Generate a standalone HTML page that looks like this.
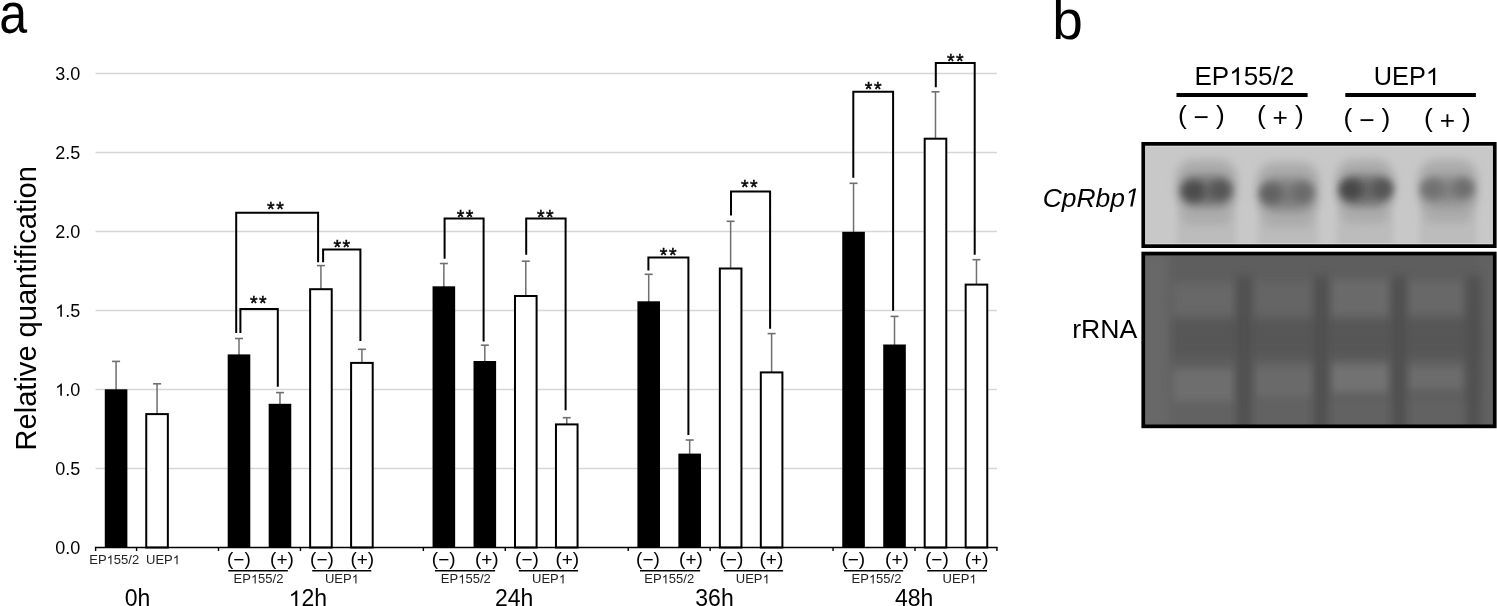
<!DOCTYPE html>
<html><head><meta charset="utf-8"><style>
html,body{margin:0;padding:0;background:#fff;}
body{width:1497px;height:606px;overflow:hidden;}
svg{display:block;font-family:"Liberation Sans",sans-serif;filter:grayscale(1);}
</style></head><body>
<svg width="1497" height="606" viewBox="0 0 1497 606">
<defs>
<filter id="bl3" x="-50%" y="-50%" width="200%" height="200%"><feGaussianBlur stdDeviation="3"/></filter>
<filter id="bl4" x="-50%" y="-50%" width="200%" height="200%"><feGaussianBlur stdDeviation="4"/></filter>
<filter id="bl5" x="-50%" y="-50%" width="200%" height="200%"><feGaussianBlur stdDeviation="5"/></filter>
<filter id="bl6" x="-50%" y="-50%" width="200%" height="200%"><feGaussianBlur stdDeviation="6"/></filter>
<clipPath id="c1"><rect x="1143" y="143" width="353" height="104"/></clipPath>
<clipPath id="c2"><rect x="1143" y="253" width="353" height="174"/></clipPath>
</defs>
<rect width="1497" height="606" fill="#fff"/>
<line x1="95.5" y1="468.50" x2="997" y2="468.50" stroke="#d6d6d6" stroke-width="1.3"/>
<line x1="95.5" y1="389.50" x2="997" y2="389.50" stroke="#d6d6d6" stroke-width="1.3"/>
<line x1="95.5" y1="310.50" x2="997" y2="310.50" stroke="#d6d6d6" stroke-width="1.3"/>
<line x1="95.5" y1="231.50" x2="997" y2="231.50" stroke="#d6d6d6" stroke-width="1.3"/>
<line x1="95.5" y1="152.50" x2="997" y2="152.50" stroke="#d6d6d6" stroke-width="1.3"/>
<line x1="95.5" y1="73.50" x2="997" y2="73.50" stroke="#d6d6d6" stroke-width="1.3"/>
<text x="55.18" y="553.80" font-size="18" >0.0</text>
<text x="55.18" y="474.80" font-size="18" >0.5</text>
<text x="55.18" y="395.80" font-size="18" > .0</text><path d="M763 0L583 0L583 1098Q518 1039 412 979Q306 920 222 890L222 1057Q373 1124 486 1221Q599 1318 646 1409L763 1409Z" fill="#000" transform="matrix(0.00879 0 0 -0.00879 55.18 395.80)"/>
<text x="55.18" y="316.80" font-size="18" > .5</text><path d="M763 0L583 0L583 1098Q518 1039 412 979Q306 920 222 890L222 1057Q373 1124 486 1221Q599 1318 646 1409L763 1409Z" fill="#000" transform="matrix(0.00879 0 0 -0.00879 55.18 316.80)"/>
<text x="55.18" y="237.80" font-size="18" >2.0</text>
<text x="55.18" y="158.80" font-size="18" >2.5</text>
<text x="55.18" y="79.80" font-size="18" >3.0</text>
<line x1="116.08" y1="390.30" x2="116.08" y2="361.40" stroke="#6f6f6f" stroke-width="1.5"/>
<line x1="112.08" y1="361.40" x2="120.08" y2="361.40" stroke="#6f6f6f" stroke-width="1.6"/>
<rect x="104.78" y="389.30" width="22.60" height="158.20" fill="#000"/>
<line x1="157.06" y1="414.10" x2="157.06" y2="383.80" stroke="#6f6f6f" stroke-width="1.5"/>
<line x1="153.06" y1="383.80" x2="161.06" y2="383.80" stroke="#6f6f6f" stroke-width="1.6"/>
<rect x="146.25" y="414.10" width="21.60" height="133.40" fill="#fff" stroke="#000" stroke-width="2.0"/>
<line x1="238.99" y1="355.40" x2="238.99" y2="338.50" stroke="#6f6f6f" stroke-width="1.5"/>
<line x1="234.99" y1="338.50" x2="242.99" y2="338.50" stroke="#6f6f6f" stroke-width="1.6"/>
<rect x="227.69" y="354.40" width="22.60" height="193.10" fill="#000"/>
<line x1="279.97" y1="404.80" x2="279.97" y2="392.60" stroke="#6f6f6f" stroke-width="1.5"/>
<line x1="275.97" y1="392.60" x2="283.97" y2="392.60" stroke="#6f6f6f" stroke-width="1.6"/>
<rect x="268.67" y="403.80" width="22.60" height="143.70" fill="#000"/>
<line x1="320.93" y1="289.20" x2="320.93" y2="265.60" stroke="#6f6f6f" stroke-width="1.5"/>
<line x1="316.93" y1="265.60" x2="324.93" y2="265.60" stroke="#6f6f6f" stroke-width="1.6"/>
<rect x="310.13" y="289.20" width="21.60" height="258.30" fill="#fff" stroke="#000" stroke-width="2.0"/>
<line x1="361.90" y1="362.90" x2="361.90" y2="349.30" stroke="#6f6f6f" stroke-width="1.5"/>
<line x1="357.90" y1="349.30" x2="365.90" y2="349.30" stroke="#6f6f6f" stroke-width="1.6"/>
<rect x="351.10" y="362.90" width="21.60" height="184.60" fill="#fff" stroke="#000" stroke-width="2.0"/>
<line x1="443.85" y1="287.30" x2="443.85" y2="263.50" stroke="#6f6f6f" stroke-width="1.5"/>
<line x1="439.85" y1="263.50" x2="447.85" y2="263.50" stroke="#6f6f6f" stroke-width="1.6"/>
<rect x="432.55" y="286.30" width="22.60" height="261.20" fill="#000"/>
<line x1="484.81" y1="362.00" x2="484.81" y2="345.20" stroke="#6f6f6f" stroke-width="1.5"/>
<line x1="480.81" y1="345.20" x2="488.81" y2="345.20" stroke="#6f6f6f" stroke-width="1.6"/>
<rect x="473.51" y="361.00" width="22.60" height="186.50" fill="#000"/>
<line x1="525.78" y1="296.00" x2="525.78" y2="261.20" stroke="#6f6f6f" stroke-width="1.5"/>
<line x1="521.78" y1="261.20" x2="529.78" y2="261.20" stroke="#6f6f6f" stroke-width="1.6"/>
<rect x="514.99" y="296.00" width="21.60" height="251.50" fill="#fff" stroke="#000" stroke-width="2.0"/>
<line x1="566.75" y1="424.40" x2="566.75" y2="417.70" stroke="#6f6f6f" stroke-width="1.5"/>
<line x1="562.75" y1="417.70" x2="570.75" y2="417.70" stroke="#6f6f6f" stroke-width="1.6"/>
<rect x="555.96" y="424.40" width="21.60" height="123.10" fill="#fff" stroke="#000" stroke-width="2.0"/>
<line x1="648.70" y1="302.30" x2="648.70" y2="274.30" stroke="#6f6f6f" stroke-width="1.5"/>
<line x1="644.70" y1="274.30" x2="652.70" y2="274.30" stroke="#6f6f6f" stroke-width="1.6"/>
<rect x="637.40" y="301.30" width="22.60" height="246.20" fill="#000"/>
<line x1="689.66" y1="454.60" x2="689.66" y2="440.00" stroke="#6f6f6f" stroke-width="1.5"/>
<line x1="685.66" y1="440.00" x2="693.66" y2="440.00" stroke="#6f6f6f" stroke-width="1.6"/>
<rect x="678.37" y="453.60" width="22.60" height="93.90" fill="#000"/>
<line x1="730.63" y1="268.50" x2="730.63" y2="221.30" stroke="#6f6f6f" stroke-width="1.5"/>
<line x1="726.63" y1="221.30" x2="734.63" y2="221.30" stroke="#6f6f6f" stroke-width="1.6"/>
<rect x="719.84" y="268.50" width="21.60" height="279.00" fill="#fff" stroke="#000" stroke-width="2.0"/>
<line x1="771.61" y1="372.40" x2="771.61" y2="333.60" stroke="#6f6f6f" stroke-width="1.5"/>
<line x1="767.61" y1="333.60" x2="775.61" y2="333.60" stroke="#6f6f6f" stroke-width="1.6"/>
<rect x="760.81" y="372.40" width="21.60" height="175.10" fill="#fff" stroke="#000" stroke-width="2.0"/>
<line x1="853.54" y1="232.80" x2="853.54" y2="183.30" stroke="#6f6f6f" stroke-width="1.5"/>
<line x1="849.54" y1="183.30" x2="857.54" y2="183.30" stroke="#6f6f6f" stroke-width="1.6"/>
<rect x="842.25" y="231.80" width="22.60" height="315.70" fill="#000"/>
<line x1="894.51" y1="345.50" x2="894.51" y2="316.40" stroke="#6f6f6f" stroke-width="1.5"/>
<line x1="890.51" y1="316.40" x2="898.51" y2="316.40" stroke="#6f6f6f" stroke-width="1.6"/>
<rect x="883.22" y="344.50" width="22.60" height="203.00" fill="#000"/>
<line x1="935.49" y1="138.70" x2="935.49" y2="91.80" stroke="#6f6f6f" stroke-width="1.5"/>
<line x1="931.49" y1="91.80" x2="939.49" y2="91.80" stroke="#6f6f6f" stroke-width="1.6"/>
<rect x="924.69" y="138.70" width="21.60" height="408.80" fill="#fff" stroke="#000" stroke-width="2.0"/>
<line x1="976.46" y1="284.60" x2="976.46" y2="259.70" stroke="#6f6f6f" stroke-width="1.5"/>
<line x1="972.46" y1="259.70" x2="980.46" y2="259.70" stroke="#6f6f6f" stroke-width="1.6"/>
<rect x="965.66" y="284.60" width="21.60" height="262.90" fill="#fff" stroke="#000" stroke-width="2.0"/>
<line x1="94.9" y1="547.5" x2="997.6" y2="547.5" stroke="#000" stroke-width="1.7"/>
<line x1="95.60" y1="547.5" x2="95.60" y2="551" stroke="#000" stroke-width="1.4"/>
<line x1="136.57" y1="547.5" x2="136.57" y2="551" stroke="#000" stroke-width="1.4"/>
<line x1="218.51" y1="547.5" x2="218.51" y2="551" stroke="#000" stroke-width="1.4"/>
<line x1="300.45" y1="547.5" x2="300.45" y2="551" stroke="#000" stroke-width="1.4"/>
<line x1="423.36" y1="547.5" x2="423.36" y2="551" stroke="#000" stroke-width="1.4"/>
<line x1="505.30" y1="547.5" x2="505.30" y2="551" stroke="#000" stroke-width="1.4"/>
<line x1="628.21" y1="547.5" x2="628.21" y2="551" stroke="#000" stroke-width="1.4"/>
<line x1="710.15" y1="547.5" x2="710.15" y2="551" stroke="#000" stroke-width="1.4"/>
<line x1="833.06" y1="547.5" x2="833.06" y2="551" stroke="#000" stroke-width="1.4"/>
<line x1="915.00" y1="547.5" x2="915.00" y2="551" stroke="#000" stroke-width="1.4"/>
<line x1="996.94" y1="547.5" x2="996.94" y2="551" stroke="#000" stroke-width="1.4"/>
<path d="M236.20 333.00V212.70H318.10V262.20" fill="none" stroke="#000" stroke-width="2" stroke-linejoin="miter"/>
<text x="267.09" y="216.47" font-size="19.5" stroke="#000" stroke-width="0.45">*</text>
<text x="276.19" y="216.47" font-size="19.5" stroke="#000" stroke-width="0.45">*</text>
<path d="M240.40 332.90V309.00H277.80V386.80" fill="none" stroke="#000" stroke-width="2" stroke-linejoin="miter"/>
<text x="249.99" y="310.27" font-size="19.5" stroke="#000" stroke-width="0.45">*</text>
<text x="259.09" y="310.27" font-size="19.5" stroke="#000" stroke-width="0.45">*</text>
<path d="M323.10 262.20V249.40H360.40V340.90" fill="none" stroke="#000" stroke-width="2" stroke-linejoin="miter"/>
<text x="333.49" y="254.47" font-size="19.5" stroke="#000" stroke-width="0.45">*</text>
<text x="342.59" y="254.47" font-size="19.5" stroke="#000" stroke-width="0.45">*</text>
<path d="M444.60 258.80V218.40H483.60V341.40" fill="none" stroke="#000" stroke-width="2" stroke-linejoin="miter"/>
<text x="456.69" y="223.97" font-size="19.5" stroke="#000" stroke-width="0.45">*</text>
<text x="465.79" y="223.97" font-size="19.5" stroke="#000" stroke-width="0.45">*</text>
<path d="M526.20 254.80V218.40H565.60V410.20" fill="none" stroke="#000" stroke-width="2" stroke-linejoin="miter"/>
<text x="536.89" y="223.97" font-size="19.5" stroke="#000" stroke-width="0.45">*</text>
<text x="545.99" y="223.97" font-size="19.5" stroke="#000" stroke-width="0.45">*</text>
<path d="M648.40 270.40V257.50H688.40V435.00" fill="none" stroke="#000" stroke-width="2" stroke-linejoin="miter"/>
<text x="659.79" y="262.07" font-size="19.5" stroke="#000" stroke-width="0.45">*</text>
<text x="668.89" y="262.07" font-size="19.5" stroke="#000" stroke-width="0.45">*</text>
<path d="M731.00 215.40V191.40H770.10V328.70" fill="none" stroke="#000" stroke-width="2" stroke-linejoin="miter"/>
<text x="740.89" y="193.87" font-size="19.5" stroke="#000" stroke-width="0.45">*</text>
<text x="749.99" y="193.87" font-size="19.5" stroke="#000" stroke-width="0.45">*</text>
<path d="M853.30 177.80V91.70H893.10V310.80" fill="none" stroke="#000" stroke-width="2" stroke-linejoin="miter"/>
<text x="864.79" y="96.47" font-size="19.5" stroke="#000" stroke-width="0.45">*</text>
<text x="873.89" y="96.47" font-size="19.5" stroke="#000" stroke-width="0.45">*</text>
<path d="M935.80 87.30V62.90H974.70V254.70" fill="none" stroke="#000" stroke-width="2" stroke-linejoin="miter"/>
<text x="946.89" y="68.07" font-size="19.5" stroke="#000" stroke-width="0.45">*</text>
<text x="955.99" y="68.07" font-size="19.5" stroke="#000" stroke-width="0.45">*</text>
<text x="238.90" y="565.0" text-anchor="middle" font-size="19">(<tspan dy="1.0">−</tspan><tspan dy="-1.0">)</tspan></text>
<text x="282.00" y="565.0" text-anchor="middle" font-size="19">(<tspan dy="1.0">+</tspan><tspan dy="-1.0">)</tspan></text>
<text x="322.00" y="565.0" text-anchor="middle" font-size="19">(<tspan dy="1.0">−</tspan><tspan dy="-1.0">)</tspan></text>
<text x="362.30" y="565.0" text-anchor="middle" font-size="19">(<tspan dy="1.0">+</tspan><tspan dy="-1.0">)</tspan></text>
<text x="443.70" y="565.0" text-anchor="middle" font-size="19">(<tspan dy="1.0">−</tspan><tspan dy="-1.0">)</tspan></text>
<text x="486.80" y="565.0" text-anchor="middle" font-size="19">(<tspan dy="1.0">+</tspan><tspan dy="-1.0">)</tspan></text>
<text x="527.00" y="565.0" text-anchor="middle" font-size="19">(<tspan dy="1.0">−</tspan><tspan dy="-1.0">)</tspan></text>
<text x="567.30" y="565.0" text-anchor="middle" font-size="19">(<tspan dy="1.0">+</tspan><tspan dy="-1.0">)</tspan></text>
<text x="648.00" y="565.0" text-anchor="middle" font-size="19">(<tspan dy="1.0">−</tspan><tspan dy="-1.0">)</tspan></text>
<text x="691.00" y="565.0" text-anchor="middle" font-size="19">(<tspan dy="1.0">+</tspan><tspan dy="-1.0">)</tspan></text>
<text x="731.40" y="565.0" text-anchor="middle" font-size="19">(<tspan dy="1.0">−</tspan><tspan dy="-1.0">)</tspan></text>
<text x="771.40" y="565.0" text-anchor="middle" font-size="19">(<tspan dy="1.0">+</tspan><tspan dy="-1.0">)</tspan></text>
<text x="853.30" y="565.0" text-anchor="middle" font-size="19">(<tspan dy="1.0">−</tspan><tspan dy="-1.0">)</tspan></text>
<text x="897.00" y="565.0" text-anchor="middle" font-size="19">(<tspan dy="1.0">+</tspan><tspan dy="-1.0">)</tspan></text>
<text x="936.90" y="565.0" text-anchor="middle" font-size="19">(<tspan dy="1.0">−</tspan><tspan dy="-1.0">)</tspan></text>
<text x="976.60" y="565.0" text-anchor="middle" font-size="19">(<tspan dy="1.0">+</tspan><tspan dy="-1.0">)</tspan></text>
<line x1="228.30" y1="570.8" x2="287.90" y2="570.8" stroke="#000" stroke-width="1.4"/>
<line x1="312.20" y1="570.8" x2="371.30" y2="570.8" stroke="#000" stroke-width="1.4"/>
<line x1="435.00" y1="570.8" x2="495.10" y2="570.8" stroke="#000" stroke-width="1.4"/>
<line x1="518.80" y1="570.8" x2="578.10" y2="570.8" stroke="#000" stroke-width="1.4"/>
<line x1="640.00" y1="570.8" x2="700.10" y2="570.8" stroke="#000" stroke-width="1.4"/>
<line x1="723.80" y1="570.8" x2="783.10" y2="570.8" stroke="#000" stroke-width="1.4"/>
<line x1="844.00" y1="570.8" x2="903.20" y2="570.8" stroke="#000" stroke-width="1.4"/>
<line x1="927.30" y1="570.8" x2="987.00" y2="570.8" stroke="#000" stroke-width="1.4"/>
<text x="233.56" y="583.40" font-size="13" fill="#222">EP 55/2</text><path d="M763 0L583 0L583 1098Q518 1039 412 979Q306 920 222 890L222 1057Q373 1124 486 1221Q599 1318 646 1409L763 1409Z" fill="#222" transform="matrix(0.00635 0 0 -0.00635 250.91 583.40)"/>
<text x="324.92" y="583.40" font-size="13" fill="#222">UEP </text><path d="M763 0L583 0L583 1098Q518 1039 412 979Q306 920 222 890L222 1057Q373 1124 486 1221Q599 1318 646 1409L763 1409Z" fill="#222" transform="matrix(0.00635 0 0 -0.00635 351.65 583.40)"/>
<text x="440.86" y="583.40" font-size="13" fill="#222">EP 55/2</text><path d="M763 0L583 0L583 1098Q518 1039 412 979Q306 920 222 890L222 1057Q373 1124 486 1221Q599 1318 646 1409L763 1409Z" fill="#222" transform="matrix(0.00635 0 0 -0.00635 458.21 583.40)"/>
<text x="532.02" y="583.40" font-size="13" fill="#222">UEP </text><path d="M763 0L583 0L583 1098Q518 1039 412 979Q306 920 222 890L222 1057Q373 1124 486 1221Q599 1318 646 1409L763 1409Z" fill="#222" transform="matrix(0.00635 0 0 -0.00635 558.75 583.40)"/>
<text x="644.26" y="583.40" font-size="13" fill="#222">EP 55/2</text><path d="M763 0L583 0L583 1098Q518 1039 412 979Q306 920 222 890L222 1057Q373 1124 486 1221Q599 1318 646 1409L763 1409Z" fill="#222" transform="matrix(0.00635 0 0 -0.00635 661.61 583.40)"/>
<text x="735.82" y="583.40" font-size="13" fill="#222">UEP </text><path d="M763 0L583 0L583 1098Q518 1039 412 979Q306 920 222 890L222 1057Q373 1124 486 1221Q599 1318 646 1409L763 1409Z" fill="#222" transform="matrix(0.00635 0 0 -0.00635 762.55 583.40)"/>
<text x="851.56" y="583.40" font-size="13" fill="#222">EP 55/2</text><path d="M763 0L583 0L583 1098Q518 1039 412 979Q306 920 222 890L222 1057Q373 1124 486 1221Q599 1318 646 1409L763 1409Z" fill="#222" transform="matrix(0.00635 0 0 -0.00635 868.91 583.40)"/>
<text x="942.62" y="583.40" font-size="13" fill="#222">UEP </text><path d="M763 0L583 0L583 1098Q518 1039 412 979Q306 920 222 890L222 1057Q373 1124 486 1221Q599 1318 646 1409L763 1409Z" fill="#222" transform="matrix(0.00635 0 0 -0.00635 969.35 583.40)"/>
<text x="89.26" y="564.30" font-size="13" fill="#222">EP 55/2</text><path d="M763 0L583 0L583 1098Q518 1039 412 979Q306 920 222 890L222 1057Q373 1124 486 1221Q599 1318 646 1409L763 1409Z" fill="#222" transform="matrix(0.00635 0 0 -0.00635 106.61 564.30)"/>
<text x="146.02" y="564.30" font-size="13" fill="#222">UEP </text><path d="M763 0L583 0L583 1098Q518 1039 412 979Q306 920 222 890L222 1057Q373 1124 486 1221Q599 1318 646 1409L763 1409Z" fill="#222" transform="matrix(0.00635 0 0 -0.00635 172.75 564.30)"/>
<text x="124.81" y="606.20" font-size="23" >0h</text>
<text x="288.71" y="606.20" font-size="23" > 2h</text><path d="M763 0L583 0L583 1098Q518 1039 412 979Q306 920 222 890L222 1057Q373 1124 486 1221Q599 1318 646 1409L763 1409Z" fill="#000" transform="matrix(0.01123 0 0 -0.01123 288.71 606.20)"/>
<text x="495.01" y="606.20" font-size="23" >24h</text>
<text x="695.31" y="606.20" font-size="23" >36h</text>
<text x="895.01" y="606.20" font-size="23" >48h</text>
<text transform="translate(35.7 308.3) rotate(-90)" text-anchor="middle" font-size="29.05">Relative quantification</text>
<text transform="translate(-0.8 32.6) scale(0.88 1)" font-size="57">a</text>
<text x="1052.3" y="39.2" font-size="55">b</text>
<text x="1194.53" y="85.10" font-size="26" >EP 55/2</text><path d="M763 0L583 0L583 1098Q518 1039 412 979Q306 920 222 890L222 1057Q373 1124 486 1221Q599 1318 646 1409L763 1409Z" fill="#000" transform="matrix(0.01270 0 0 -0.01270 1229.21 85.10)"/>
<text x="1373.75" y="85.10" font-size="25.3" >UEP </text><path d="M763 0L583 0L583 1098Q518 1039 412 979Q306 920 222 890L222 1057Q373 1124 486 1221Q599 1318 646 1409L763 1409Z" fill="#000" transform="matrix(0.01235 0 0 -0.01235 1425.77 85.10)"/>
<line x1="1176.5" y1="94.9" x2="1307.6" y2="94.9" stroke="#000" stroke-width="4"/>
<line x1="1345.3" y1="94.9" x2="1475.9" y2="94.9" stroke="#000" stroke-width="4"/>
<text x="1182.30" y="123.8" text-anchor="middle" font-size="26.3">(</text>
<text x="1201.30" y="125.7" text-anchor="middle" font-size="26.3">−</text>
<text x="1220.30" y="123.8" text-anchor="middle" font-size="26.3">)</text>
<text x="1261.30" y="123.8" text-anchor="middle" font-size="26.3">(</text>
<text x="1280.30" y="125.7" text-anchor="middle" font-size="26.3">+</text>
<text x="1299.30" y="123.8" text-anchor="middle" font-size="26.3">)</text>
<text x="1348.00" y="126.9" text-anchor="middle" font-size="26.3">(</text>
<text x="1367.00" y="128.9" text-anchor="middle" font-size="26.3">−</text>
<text x="1386.00" y="126.9" text-anchor="middle" font-size="26.3">)</text>
<text x="1428.50" y="126.9" text-anchor="middle" font-size="26.3">(</text>
<text x="1447.50" y="128.9" text-anchor="middle" font-size="26.3">+</text>
<text x="1466.50" y="126.9" text-anchor="middle" font-size="26.3">)</text>
<text x="1042.74" y="206.60" font-size="26.4" font-style="italic" >CpRbp </text><path d="M412 0L650 1223L289 1000L324 1180L701 1409L867 1409L593 0Z" fill="#000" transform="matrix(0.01289 0 0 -0.01289 1124.92 206.60)"/>
<text x="1137.2" y="337.7" text-anchor="end" font-size="26.6">rRNA</text>
<g clip-path="url(#c1)">
<rect x="1143" y="143" width="352" height="103" fill="#c8c8c8"/>
<rect x="1177.0" y="199.0" width="59.0" height="70" fill="#bcbcbc" filter="url(#bl3)"/>
<rect x="1182.0" y="197.0" width="49.0" height="28" rx="8" fill="#acacac" filter="url(#bl4)"/>
<rect x="1176.0" y="159.5" width="61.0" height="50.5" rx="18" fill="#ababab" filter="url(#bl5)"/>
<rect x="1181.0" y="174.5" width="51.0" height="32.5" rx="14" fill="#838383" filter="url(#bl4)"/>
<ellipse cx="1206.8" cy="192.0" rx="19.8" ry="9.5" fill="#555555" opacity="0.55" filter="url(#bl4)"/>
<ellipse cx="1193.0" cy="191.0" rx="11.5" ry="10.5" fill="#4c4c4c" filter="url(#bl4)"/>
<ellipse cx="1220.5" cy="190.0" rx="10.5" ry="10" fill="#555555" filter="url(#bl4)"/>
<rect x="1258.0" y="201.5" width="60.0" height="70" fill="#bcbcbc" filter="url(#bl3)"/>
<rect x="1263.0" y="199.5" width="50.0" height="28" rx="8" fill="#acacac" filter="url(#bl4)"/>
<rect x="1257.0" y="162.0" width="62.0" height="52.7" rx="18" fill="#ababab" filter="url(#bl5)"/>
<rect x="1262.0" y="177.0" width="52.0" height="34.7" rx="14" fill="#8c8c8c" filter="url(#bl4)"/>
<ellipse cx="1286.8" cy="194.5" rx="21.9" ry="9.5" fill="#6a6a6a" opacity="0.55" filter="url(#bl4)"/>
<ellipse cx="1271.0" cy="193.5" rx="11.5" ry="10.5" fill="#626262" filter="url(#bl4)"/>
<ellipse cx="1302.7" cy="192.5" rx="10.5" ry="10" fill="#6a6a6a" filter="url(#bl4)"/>
<rect x="1337.0" y="197.5" width="56.0" height="70" fill="#bcbcbc" filter="url(#bl3)"/>
<rect x="1342.0" y="195.5" width="46.0" height="28" rx="8" fill="#acacac" filter="url(#bl4)"/>
<rect x="1336.0" y="159.5" width="58.0" height="50.5" rx="18" fill="#ababab" filter="url(#bl5)"/>
<rect x="1341.0" y="174.5" width="48.0" height="32.5" rx="14" fill="#7e7e7e" filter="url(#bl4)"/>
<ellipse cx="1366.8" cy="190.5" rx="21.9" ry="9.5" fill="#555555" opacity="0.55" filter="url(#bl4)"/>
<ellipse cx="1351.0" cy="189.5" rx="11.5" ry="10.5" fill="#464646" filter="url(#bl4)"/>
<ellipse cx="1382.7" cy="188.5" rx="10.5" ry="10" fill="#555555" filter="url(#bl4)"/>
<rect x="1419.5" y="197.0" width="56.9" height="70" fill="#bcbcbc" filter="url(#bl3)"/>
<rect x="1424.5" y="195.0" width="46.9" height="28" rx="8" fill="#acacac" filter="url(#bl4)"/>
<rect x="1418.5" y="159.5" width="58.9" height="52.1" rx="18" fill="#ababab" filter="url(#bl5)"/>
<rect x="1423.5" y="174.5" width="48.9" height="34.1" rx="14" fill="#999999" filter="url(#bl4)"/>
<ellipse cx="1447.8" cy="190.0" rx="21.8" ry="9.5" fill="#6e6e6e" opacity="0.55" filter="url(#bl4)"/>
<ellipse cx="1432.0" cy="189.0" rx="11.5" ry="10.5" fill="#727272" filter="url(#bl4)"/>
<ellipse cx="1463.6" cy="188.0" rx="10.5" ry="10" fill="#6e6e6e" filter="url(#bl4)"/>
</g>
<rect x="1145.6" y="146.2" width="346.8" height="97.6" fill="none" stroke="#dadada" stroke-width="1"/>
<rect x="1143.25" y="143.85" width="351.5" height="102.3" fill="none" stroke="#000" stroke-width="3.7"/>
<g clip-path="url(#c2)">
<rect x="1143" y="253" width="352" height="174" fill="#5e5e5e"/>
<rect x="1143" y="400" width="352" height="30" fill="#626262" filter="url(#bl5)"/>
<rect x="1168" y="319" width="320" height="38" fill="#565656" filter="url(#bl6)"/>
<rect x="1138" y="253" width="31" height="174" fill="#676767" filter="url(#bl5)"/>
<rect x="1480" y="253" width="16" height="174" fill="#626262" filter="url(#bl4)"/>
<rect x="1172.7" y="282.7" width="62.3" height="32.6" fill="#686868" filter="url(#bl4)"/>
<rect x="1172.7" y="368.8" width="62.3" height="32.7" fill="#6e6e6e" filter="url(#bl4)"/>
<rect x="1254.0" y="282.0" width="62.0" height="33.0" fill="#656565" filter="url(#bl4)"/>
<rect x="1254.0" y="366.0" width="62.0" height="32.0" fill="#6a6a6a" filter="url(#bl4)"/>
<rect x="1330.4" y="279.7" width="59.4" height="35.6" fill="#6b6b6b" filter="url(#bl4)"/>
<rect x="1330.4" y="364.3" width="59.4" height="28.3" fill="#727272" filter="url(#bl4)"/>
<rect x="1406.0" y="281.0" width="59.5" height="33.0" fill="#676767" filter="url(#bl4)"/>
<rect x="1406.0" y="365.8" width="59.5" height="23.8" fill="#6c6c6c" filter="url(#bl4)"/>
<rect x="1237.0" y="276" width="14" height="160" fill="#505050" filter="url(#bl5)"/>
<rect x="1314.0" y="276" width="14" height="160" fill="#505050" filter="url(#bl5)"/>
<rect x="1392.0" y="276" width="14" height="160" fill="#505050" filter="url(#bl5)"/>
<rect x="1466.5" y="276" width="14" height="160" fill="#505050" filter="url(#bl5)"/>
</g>
<rect x="1143.25" y="253.55" width="351.5" height="172.8" fill="none" stroke="#000" stroke-width="3.7"/>
</svg>
</body></html>
